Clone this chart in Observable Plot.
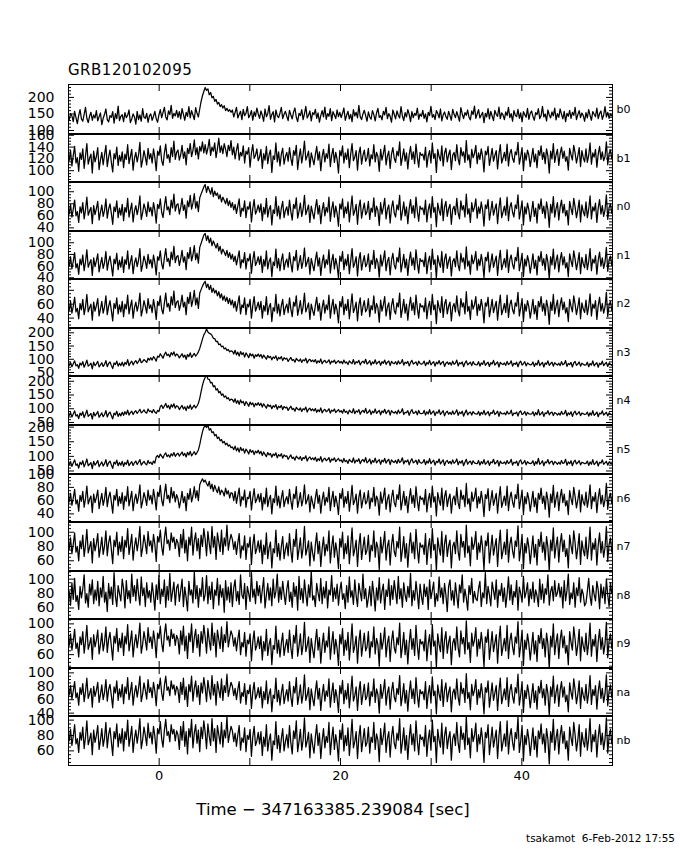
<!DOCTYPE html>
<html><head><meta charset="utf-8">
<script src="https://cdn.jsdelivr.net/npm/d3@7"></script>
<script src="https://cdn.jsdelivr.net/npm/@observablehq/plot@0.6"></script>
<style>
html,body{margin:0;padding:0;background:#fff;}
body{width:680px;height:850px;position:relative;overflow:hidden;font-family:"DejaVu Sans",sans-serif;color:#000;}
#title{position:absolute;left:68px;top:63px;font-size:15px;line-height:1;letter-spacing:0.5px;}
#xlabel{position:absolute;left:0;width:666px;top:802px;text-align:center;font-size:16.5px;line-height:1;}
#footer{position:absolute;right:5px;top:833px;font-size:10.5px;line-height:1;white-space:pre;}
.panel{position:absolute;left:0;}
</style></head><body>
<div id="title">GRB120102095</div>
<div id="panels"></div>
<div id="xlabel">Time − 347163385.239084 [sec]</div>
<div id="footer">tsakamot  6-Feb-2012 17:55</div>
<script>
// ---- data: counts per 0.15 s bin, first bin starting at t = -10 s ----
const binStart = -10, binWidth = 0.15;
const detectors = ["b0","b1","n0","n1","n2","n3","n4","n5","n6","n7","n8","n9","na","nb"];
const yLo = [88,80,34,37,25,35,39,38,27,45,44,42,35,41];
const yHi = [239,163,117,121,97,220,221,209,101,115,112,107,108,106];
const yTickLabels = [[100,150,200],[100,120,140,160],[40,60,80,100],[40,60,80,100],[40,60,80],[50,100,150,200],[50,100,150,200],[50,100,150,200],[40,60,80,100],[60,80,100],[60,80,100],[60,80,100],[40,60,80,100],[60,80,100]];
const yMinorStep = [10,5,5,5,5,10,10,10,5,5,5,5,5,5];
const xTickLabels = [0,20,40];
const xTicks = [0,10,20,30,40];

const b0 = [
132,151,144,127,158,139,121,146,163,135,128,149,170,137,124,143,155,131,147,138,
160,129,142,153,118,137,149,165,133,126,145,140,157,122,151,136,174,130,143,148,
127,154,139,146,162,124,135,150,141,119,158,133,147,128,166,140,137,152,125,144,
150,131,143,158,136,125,147,163,139,154,170,141,132,159,148,176,137,152,144,161,
140,157,135,166,149,131,155,143,172,138,160,147,133,169,152,141,165,188,205,218,
230,221,226,208,215,199,203,188,194,180,185,172,178,168,175,160,167,158,163,155,
162,141,155,170,138,149,158,133,164,145,152,172,139,147,160,131,156,143,168,150,
137,159,146,128,165,142,151,175,134,148,157,126,162,144,139,153,170,136,149,158,
143,130,161,147,135,156,168,140,127,152,145,163,133,150,173,138,146,159,129,154,
148,164,137,153,125,145,160,141,171,134,151,143,166,130,157,147,136,162,142,155,
139,152,168,131,146,158,135,149,127,163,144,155,138,176,142,133,150,161,145,128,
156,141,134,160,148,129,153,167,140,145,132,158,147,170,136,151,143,125,162,149,
135,159,146,138,172,144,130,154,141,163,149,127,157,139,152,146,168,134,150,143,
161,137,150,126,155,145,173,140,148,133,160,152,138,165,129,147,156,142,134,158,
145,131,164,149,139,157,143,128,169,150,136,154,146,162,140,132,159,148,174,137,
150,163,138,147,155,124,152,141,166,135,158,144,130,161,149,143,171,136,153,147,
133,156,145,170,139,151,128,160,146,142,164,137,153,126,157,148,140,167,134,152,
159,142,131,154,148,166,136,145,173,141,150,129,162,147,138,156,144,168,132,151,
140,165,149,135,158,127,152,143,161,137,155,146,170,133,148,160,139,153,145,128,
154,138,163,146,131,157,149,142,168,136,151,159,134,147,172,141,155,137,150,144];
const b1 = [
117,134,108,126,141,113,122,99,130,119,137,104,125,146,111,121,128,96,133,115,
124,139,102,118,131,110,127,143,107,123,135,114,98,129,120,140,109,126,116,132,
105,128,119,144,112,124,136,101,121,131,115,127,148,106,118,134,123,110,138,120,
129,113,137,122,100,133,126,142,117,109,130,145,121,127,114,139,124,150,119,131,
135,118,127,143,121,132,110,138,129,146,124,134,152,127,139,120,141,133,149,130,
144,128,138,153,126,140,133,147,122,137,155,131,142,129,146,136,124,143,134,151,
127,140,120,135,146,118,131,125,142,113,133,128,139,106,130,144,121,126,137,117,
123,136,104,129,118,141,112,127,135,97,125,119,147,115,132,108,128,138,111,124,
131,116,139,121,109,134,126,143,102,122,137,113,128,150,118,125,133,106,130,120,
110,127,141,118,132,100,124,136,115,129,121,145,107,126,138,114,131,119,96,134,
125,142,113,130,119,137,105,128,146,117,123,134,101,129,140,111,126,135,116,122,
138,108,127,120,144,115,131,124,99,136,118,129,143,110,125,133,104,128,139,121,
114,133,125,149,109,122,137,116,130,103,127,141,119,132,112,145,123,106,131,126,
128,118,140,106,125,134,113,147,121,129,97,136,124,117,142,108,130,138,115,127,
135,102,126,131,117,144,120,110,139,125,132,114,151,118,127,105,136,122,129,143,
112,130,119,137,124,98,133,127,141,109,123,138,116,126,134,103,128,144,113,121,
131,117,145,108,129,136,121,114,132,127,148,111,124,139,100,130,118,135,126,107,
122,138,115,128,105,134,126,142,119,131,112,137,125,96,133,120,146,114,127,136,
109,129,140,121,133,116,124,101,138,127,118,143,130,113,125,139,107,134,122,115,
137,114,126,147,111,130,123,136,106,128,141,119,132,117,124,149,110,129,135,120];
const n0 = [
63,79,58,71,86,60,67,49,75,65,82,55,70,91,61,68,74,47,77,62,
72,84,53,66,78,59,69,88,56,71,80,64,46,75,67,85,57,73,61,79,
52,74,66,89,58,70,81,50,68,77,62,73,93,54,65,80,71,59,83,67,
74,60,82,69,48,79,72,88,66,57,76,92,70,75,62,86,73,96,68,78,
80,63,74,89,69,78,56,85,75,94,71,81,97,73,84,67,90,96,102,108,
112,99,109,103,96,107,92,101,94,98,88,95,83,91,86,80,89,77,85,74,
82,70,79,64,76,88,59,73,68,85,57,75,71,83,50,72,87,63,69,78,
66,80,52,74,63,89,58,71,77,45,70,64,92,60,76,55,73,84,57,69,
75,61,86,67,53,79,72,90,56,68,81,59,71,94,62,70,78,49,76,65,
55,73,87,63,77,47,69,82,60,74,66,91,51,71,83,58,76,64,43,80,
71,88,57,75,64,83,50,72,93,61,68,79,46,74,86,56,70,81,62,67,
84,54,73,66,90,59,76,69,44,82,63,74,89,55,71,78,48,73,85,65,
58,78,70,94,53,67,83,60,75,47,72,87,64,77,57,91,68,51,76,71,
73,62,86,50,70,80,57,92,66,74,42,81,69,61,88,52,75,84,59,72,
79,46,71,76,62,89,65,55,85,70,77,58,96,63,72,49,82,67,74,88,
56,75,64,83,69,43,78,72,87,53,68,84,61,71,80,47,73,90,57,66,
76,61,91,52,74,82,66,58,78,72,95,55,69,85,45,75,63,81,70,51,
67,84,59,73,48,80,71,88,64,76,56,83,70,41,79,65,92,58,72,82,
53,74,86,65,79,60,69,45,84,72,62,89,75,57,70,86,50,78,67,60,
83,57,71,93,55,75,68,81,49,73,87,63,77,59,70,95,54,74,80,64];
const n1 = [
60,76,55,68,83,57,64,46,72,62,79,52,67,88,58,65,71,44,74,59,
69,81,50,63,75,56,66,85,53,68,77,61,43,72,64,82,54,70,58,76,
49,71,63,86,55,67,78,47,65,74,59,70,90,51,62,77,68,56,80,64,
71,57,79,66,45,76,70,86,64,55,74,90,68,73,60,84,71,94,66,76,
78,61,72,87,67,76,54,83,73,92,69,79,95,71,82,65,92,99,106,113,
116,104,112,100,108,95,103,97,91,99,86,94,81,89,84,78,87,75,83,72,
80,68,77,62,74,86,57,71,66,83,55,73,69,81,48,70,85,61,67,76,
63,77,49,71,60,86,55,68,74,42,67,61,89,57,73,52,70,81,54,66,
72,58,83,64,50,76,69,87,53,65,78,56,68,91,59,67,75,46,73,62,
52,70,84,60,74,44,66,79,57,71,63,88,48,68,80,55,73,61,40,77,
68,85,54,72,61,80,47,69,90,58,65,76,43,71,83,53,67,78,59,64,
81,51,70,63,87,56,73,66,41,79,60,71,86,52,68,75,45,70,82,62,
55,75,67,91,50,64,80,57,72,44,69,84,61,74,54,88,65,48,73,68,
70,59,83,47,67,77,54,89,63,71,39,78,66,58,85,49,72,81,56,69,
76,43,68,73,59,86,62,52,82,67,74,55,93,60,69,46,79,64,71,85,
53,72,61,80,66,40,75,69,84,50,65,81,58,68,77,44,70,87,54,63,
73,58,88,49,71,79,63,55,75,69,92,52,66,82,42,72,60,78,67,48,
64,81,56,70,45,77,68,85,61,73,53,80,67,38,76,62,89,55,69,79,
50,71,83,62,76,57,66,42,81,69,59,86,72,54,67,83,47,75,64,57,
80,54,68,90,52,72,65,78,46,70,84,60,74,56,67,92,51,71,77,61];
const n2 = [
51,64,47,57,70,49,54,39,61,52,67,45,56,74,49,55,60,37,63,50,
58,68,43,53,64,47,56,72,45,57,65,51,36,61,54,69,46,59,49,64,
42,60,53,73,46,57,66,40,55,63,50,59,76,43,52,65,57,47,68,54,
59,48,67,55,38,64,58,72,53,46,62,76,56,61,50,71,59,79,55,63,
65,51,60,73,56,63,45,70,61,77,57,66,80,59,69,54,76,81,86,90,
93,84,89,81,87,77,83,76,80,72,78,69,75,66,72,64,70,61,68,59,
66,55,64,50,61,72,46,59,55,69,45,60,56,67,40,58,71,50,56,63,
52,64,40,58,50,71,45,56,61,35,55,50,74,47,60,43,58,67,45,55,
60,48,69,53,42,63,57,72,44,54,65,46,56,76,49,55,62,38,60,51,
44,58,70,50,61,37,55,66,47,59,52,73,40,56,67,46,60,51,33,64,
56,71,45,60,51,67,39,57,75,48,54,63,36,59,69,44,56,65,49,53,
68,42,58,52,72,47,61,55,34,66,50,59,71,43,56,62,38,58,68,51,
46,62,56,76,41,53,67,47,60,37,57,70,51,62,45,73,54,40,61,56,
58,49,69,39,56,64,45,74,52,59,32,65,55,48,71,41,60,67,46,57,
63,36,56,61,49,72,51,43,68,56,62,46,78,50,57,38,66,53,59,71,
44,60,51,67,55,33,62,57,70,42,54,67,48,56,64,37,58,73,45,52,
61,48,73,41,59,66,52,46,62,57,77,43,55,68,35,60,50,65,56,40,
53,67,46,58,38,64,56,71,50,61,44,66,55,31,63,51,74,46,57,66,
42,59,69,52,63,47,55,35,67,57,49,72,60,45,56,69,39,62,53,48,
66,45,57,75,43,60,54,65,38,58,70,50,61,47,56,77,42,59,64,51];
const n3 = [
77,88,72,83,94,75,80,66,86,78,91,70,82,97,74,79,85,64,89,76,
83,92,71,79,87,73,81,95,72,84,90,77,65,86,80,93,74,85,76,89,
74,88,81,99,76,86,93,79,89,95,84,92,103,87,91,99,94,88,104,97,
106,97,110,103,93,112,108,121,113,104,118,127,114,119,109,125,116,128,112,120,
115,105,113,121,108,116,100,118,110,124,107,115,122,112,119,128,141,158,176,192,
201,214,203,198,196,190,179,178,167,168,155,158,147,150,139,143,133,137,128,132,
130,120,134,117,127,112,129,118,125,108,124,116,106,122,113,119,104,117,111,120,
110,118,104,116,108,100,114,106,111,98,109,104,113,96,107,102,110,95,106,101,
104,92,100,107,95,99,89,103,97,93,101,88,98,94,104,86,96,100,91,97,
90,99,85,94,88,101,83,92,96,87,91,98,82,93,89,97,84,90,95,86,
92,83,97,86,90,80,94,88,84,99,81,91,87,96,79,89,93,85,100,82,
87,95,78,90,84,98,82,88,93,77,91,85,97,81,89,94,76,92,86,83,
91,80,94,83,87,99,78,89,85,92,75,88,96,82,86,90,77,93,84,81,
84,93,76,88,82,96,79,86,91,74,89,83,95,80,87,92,73,85,90,81,
88,78,93,81,85,97,75,87,83,90,72,86,94,79,84,89,76,91,82,80,
79,91,74,86,81,95,77,84,89,73,87,82,96,78,85,90,71,88,83,80,
86,77,92,80,84,94,74,85,81,89,72,87,93,78,83,91,75,86,82,79,
80,90,73,85,79,96,76,83,88,71,86,81,94,77,84,89,74,87,82,78,
85,76,91,79,83,95,73,84,80,88,71,86,92,77,82,90,74,85,81,78,
79,89,72,84,78,94,75,82,87,70,85,80,93,76,83,88,73,86,81,77];
const n4 = [
75,86,70,81,92,73,78,64,84,76,89,68,80,95,72,77,83,62,87,74,
81,90,69,77,85,71,79,93,70,82,88,75,63,84,78,91,72,83,74,87,
76,89,80,95,77,86,91,79,88,93,83,90,98,85,89,96,87,84,99,90,
92,85,97,88,83,94,90,108,113,101,110,119,104,112,99,115,106,118,102,111,
108,97,105,112,99,107,93,110,101,114,98,106,113,103,110,120,138,162,185,203,
214,225,208,207,194,196,180,184,168,173,158,163,149,154,142,147,136,140,130,135,
133,124,136,120,130,116,132,121,127,112,126,119,109,124,115,121,107,119,113,122,
112,120,106,118,110,102,116,108,113,100,111,106,115,98,109,104,112,97,108,103,
106,94,102,109,97,101,91,105,99,95,103,90,100,96,106,88,98,102,93,99,
92,101,87,96,90,103,85,94,98,89,93,100,84,95,91,99,86,92,97,88,
93,84,98,87,91,81,95,89,85,100,82,92,88,97,80,90,94,86,101,83,
88,96,79,91,85,99,83,89,94,78,92,86,98,82,90,95,77,93,87,84,
90,81,95,84,88,100,79,87,86,93,76,89,97,83,85,91,78,94,83,82,
83,94,77,89,81,97,80,87,92,75,88,84,96,79,86,93,74,86,91,80,
87,79,92,80,86,96,76,88,82,91,73,85,95,78,85,88,77,90,83,81,
80,90,75,87,80,94,78,83,90,74,86,83,95,79,84,91,72,89,82,81,
85,78,91,81,83,95,75,84,82,88,73,88,92,79,82,90,76,87,81,80,
81,89,74,86,78,97,77,82,89,72,85,82,93,78,85,88,75,86,83,77,
84,77,90,80,82,94,74,85,79,89,72,85,91,78,83,89,75,84,82,79,
80,88,73,85,77,93,76,81,88,71,84,81,92,77,82,87,74,85,80,78];
const n5 = [
71,82,66,77,88,69,74,60,80,72,85,64,76,91,68,73,79,58,83,70,
77,86,65,73,81,67,75,89,66,78,84,71,59,80,74,87,68,79,70,83,
66,79,73,87,68,76,82,69,78,84,72,80,89,70,77,83,75,71,86,76,
80,72,84,77,98,103,96,108,101,94,106,112,99,105,97,109,102,113,100,107,
111,101,108,115,103,110,98,114,105,117,102,109,116,106,113,122,140,163,184,199,
204,199,207,190,195,181,184,170,175,161,166,153,158,146,151,140,145,135,139,130,
132,123,135,119,129,115,131,120,126,111,125,118,108,123,114,120,106,118,112,121,
109,117,103,115,107,99,113,105,110,97,108,103,112,95,106,101,109,94,105,100,
102,90,98,105,93,97,87,101,95,91,99,86,96,92,102,84,94,98,89,95,
88,97,83,92,86,99,81,90,94,85,89,96,80,91,87,95,82,88,93,84,
88,79,93,82,86,76,90,84,80,95,77,87,83,92,75,85,89,81,96,78,
83,91,74,86,80,94,78,84,89,73,87,81,93,77,85,90,72,88,82,79,
86,76,90,79,83,95,74,85,81,88,71,84,92,78,81,87,73,89,79,77,
79,89,72,84,77,92,75,82,87,70,83,79,91,74,81,88,69,82,86,76,
83,74,88,76,81,91,71,83,77,86,68,80,90,73,80,84,72,85,78,76,
75,86,70,82,75,89,73,78,85,69,81,78,90,74,79,86,67,84,77,76,
81,73,86,76,79,90,70,80,77,84,68,83,88,74,78,86,71,82,77,75,
77,85,69,82,74,93,73,78,85,68,81,78,89,74,81,84,71,82,79,73,
80,73,86,76,78,90,70,81,75,85,68,81,87,74,79,85,71,80,78,75,
76,84,69,81,73,89,72,77,84,67,80,77,88,73,78,83,70,81,76,74];
const n6 = [
58,71,53,64,77,55,61,44,68,59,74,50,63,82,55,62,67,42,70,57,
65,76,48,60,71,53,63,80,51,65,73,58,41,68,61,77,52,66,56,72,
47,67,59,81,52,63,74,45,61,70,56,66,84,49,59,72,64,53,76,61,
68,55,77,64,46,73,66,83,61,52,70,85,63,68,57,80,64,74,58,69,
63,49,60,74,57,66,45,71,62,78,58,67,81,64,75,60,84,89,93,88,
91,86,82,89,78,85,74,83,77,72,81,69,76,73,67,79,70,75,64,72,
71,60,74,56,68,79,52,66,61,76,50,65,63,74,46,64,78,57,62,70,
58,71,46,65,55,79,51,62,68,40,63,57,82,53,67,49,64,75,51,61,
66,55,77,60,47,70,63,81,50,60,72,52,62,84,55,61,69,43,67,57,
48,64,77,56,68,41,61,73,53,65,58,80,45,62,74,51,67,56,39,71,
63,78,50,66,56,74,44,62,83,54,60,70,41,65,76,49,61,72,55,59,
75,48,64,58,80,52,67,61,38,73,56,65,79,47,62,69,43,64,76,57,
51,69,62,84,46,59,74,53,66,42,63,78,56,68,50,81,60,45,67,62,
64,54,77,43,61,71,50,82,58,66,37,72,61,53,79,46,66,75,51,63,
70,41,62,67,54,80,57,48,76,62,68,51,86,55,63,44,73,59,65,79,
49,66,56,74,60,36,69,63,78,45,60,75,53,62,71,41,64,81,50,58,
67,53,82,45,64,73,58,50,69,63,85,48,61,76,39,66,55,72,62,44,
59,74,51,64,42,71,62,79,56,67,47,73,61,35,70,57,83,50,63,73,
45,65,77,57,70,52,60,39,75,63,54,80,66,49,61,76,43,69,58,53,
73,50,63,84,48,66,59,72,42,64,78,55,68,51,61,86,47,65,71,56];
const n7 = [
76,92,70,83,99,72,80,60,88,77,96,66,82,104,71,79,87,57,91,74,
84,98,65,78,93,69,81,102,67,85,95,76,56,89,80,100,68,86,73,94,
63,89,79,105,69,82,97,61,80,92,74,87,108,66,78,96,84,70,101,81,
88,72,97,83,59,94,86,103,80,68,91,107,84,89,75,99,86,93,77,90,
85,66,97,78,104,71,89,60,93,82,107,68,88,99,74,91,63,96,80,105,
90,67,101,84,70,108,79,94,62,99,86,73,103,69,92,81,110,75,88,97,
90,76,87,69,85,98,64,81,75,95,62,84,79,93,55,82,97,70,77,88,
72,89,56,82,69,99,63,78,86,50,77,71,103,66,84,61,80,94,63,76,
85,67,98,74,58,90,80,104,62,76,92,64,78,108,68,77,88,53,86,71,
60,82,99,70,87,52,77,93,67,83,74,102,57,79,95,65,85,72,49,91,
79,100,63,84,70,95,56,80,106,67,76,89,52,82,98,62,78,93,69,75,
96,59,82,74,102,65,86,78,48,93,71,83,101,61,80,89,54,82,97,73,
66,87,78,107,59,75,94,64,84,51,80,99,71,86,63,104,77,57,85,79,
82,69,98,55,79,91,64,105,75,83,46,92,78,68,101,58,84,96,66,81,
89,50,80,86,70,102,73,61,97,79,87,65,110,71,81,53,93,76,84,101,
62,85,72,95,78,47,88,81,99,57,77,96,68,80,91,52,83,103,63,74,
86,69,104,58,83,93,74,64,88,80,109,60,77,97,49,84,71,92,79,56,
76,95,65,83,54,90,80,100,72,86,61,94,79,45,89,74,106,64,81,93,
58,84,98,73,89,66,77,50,96,81,70,102,85,63,78,98,55,88,75,67,
93,63,80,107,61,85,76,91,54,82,99,71,87,65,79,108,59,83,92,72];
const n8 = [
83,64,95,72,101,69,77,58,90,74,86,106,67,80,61,93,78,99,66,85,
71,97,63,88,75,104,68,82,55,94,73,89,65,109,76,62,91,80,70,100,
87,60,98,73,84,67,107,76,91,70,100,79,64,103,77,88,62,95,74,84,
68,95,78,57,92,72,105,66,86,76,99,61,90,71,108,69,82,96,64,88,
93,69,84,100,62,89,74,56,97,78,85,67,110,73,91,61,87,76,102,70,
79,105,66,90,72,96,59,85,77,101,64,92,75,87,54,98,71,89,68,95,
62,88,99,70,83,65,106,78,73,94,58,90,80,69,109,75,86,66,97,77,
91,67,85,102,60,78,94,71,88,63,100,74,83,107,68,89,72,97,79,65,
86,98,69,82,61,95,76,90,57,104,72,87,67,99,79,63,92,75,111,71,
77,62,94,81,70,101,66,89,74,97,60,85,78,105,69,88,73,93,64,84,
96,72,80,59,91,68,103,75,84,65,99,77,62,94,82,70,107,73,87,61,
74,90,63,97,79,56,88,71,102,67,83,93,58,85,76,100,64,91,72,98,
82,66,104,73,87,61,95,78,69,90,75,108,63,84,71,97,80,59,93,76,
65,93,76,89,58,99,73,84,96,62,80,70,103,75,88,66,94,78,55,90,
99,71,84,64,95,77,60,92,81,106,68,86,74,57,91,79,101,67,83,73,
70,87,97,62,81,74,109,66,90,78,63,96,84,72,99,61,85,77,94,69,
88,61,79,103,71,92,65,83,75,98,57,89,80,68,104,74,82,95,63,86,
73,96,68,85,77,62,100,72,93,67,87,79,106,64,83,90,70,98,76,81,
94,75,89,60,98,70,84,107,65,81,73,95,61,88,77,102,68,86,79,63,
67,83,101,76,64,91,79,70,97,85,59,93,74,89,66,100,78,62,95,80];
const n9 = [
72,87,66,78,93,68,75,57,83,73,90,62,77,98,67,74,82,54,86,70,
79,92,61,73,88,65,76,96,63,80,89,71,53,84,75,94,64,81,69,88,
59,84,74,99,65,77,91,57,75,86,69,82,101,62,73,90,79,66,95,76,
83,68,91,78,56,88,81,97,75,64,86,100,79,84,71,93,81,87,72,85,
80,61,91,73,97,65,84,55,88,77,100,63,82,93,69,86,58,90,75,98,
83,62,94,78,66,101,72,88,57,92,80,68,96,64,86,76,103,70,81,91,
85,71,82,65,80,92,60,76,70,89,58,79,74,87,52,77,91,66,72,83,
68,84,53,77,65,93,59,73,81,47,72,67,97,62,79,57,75,88,59,71,
80,63,92,69,55,85,75,98,58,71,87,60,73,102,64,72,83,50,81,67,
56,77,93,66,82,49,72,88,63,78,70,96,54,74,90,61,80,68,46,86,
74,94,59,79,66,89,53,75,100,63,71,84,49,77,92,58,73,88,65,70,
90,56,77,70,96,61,81,73,45,88,67,78,95,57,75,84,51,77,91,69,
62,82,73,101,56,70,89,60,79,48,75,93,67,81,59,98,72,54,80,74,
77,65,92,52,74,86,60,99,71,78,44,87,73,64,95,55,79,90,62,76,
84,47,75,81,66,96,69,57,91,74,82,61,104,67,76,50,88,71,79,95,
58,80,68,89,73,44,83,76,93,54,72,90,64,75,86,49,78,97,59,70,
81,65,98,55,78,88,70,60,83,75,103,57,72,92,46,79,67,87,74,53,
71,89,61,78,51,85,75,94,68,81,57,88,74,42,84,70,100,60,76,87,
55,79,92,69,84,62,72,47,90,76,66,96,80,59,73,93,52,83,71,64,
88,60,75,101,58,80,71,86,51,77,93,67,82,61,74,102,56,78,87,68];
const na = [
67,81,61,73,87,63,70,52,78,68,84,57,72,92,62,69,77,49,80,65,
74,86,56,68,82,60,71,90,58,75,83,66,48,79,70,88,59,76,64,83,
54,79,69,93,60,72,86,52,70,81,64,77,95,57,68,85,74,61,90,71,
78,63,86,73,51,83,76,92,70,59,81,95,74,79,66,88,76,82,67,80,
75,56,86,68,92,60,79,50,83,72,95,58,77,88,64,81,53,85,70,93,
78,57,89,73,61,96,67,83,52,87,75,63,91,59,81,71,98,65,76,86,
80,66,77,60,75,87,55,71,65,84,53,74,69,82,47,72,86,61,67,78,
63,79,48,72,60,88,54,68,76,42,67,62,92,57,74,52,70,83,54,66,
75,58,87,64,50,80,70,93,53,66,82,55,68,97,59,67,78,45,76,62,
51,72,88,61,77,44,67,83,58,73,65,91,49,69,85,56,75,63,41,81,
69,89,54,74,61,84,48,70,95,58,66,79,44,72,87,53,68,83,60,65,
85,51,72,65,91,56,76,68,40,83,62,73,90,52,70,79,46,72,86,64,
57,77,68,96,51,65,84,55,74,43,70,88,62,76,54,93,67,49,75,69,
72,60,87,47,69,81,55,94,66,73,39,82,68,59,90,50,74,85,57,71,
79,42,70,76,61,91,64,52,86,69,77,56,99,62,71,45,83,66,74,90,
53,75,63,84,68,39,78,71,88,49,67,85,59,70,81,44,73,92,54,65,
76,60,93,50,73,83,65,55,78,70,98,52,67,87,41,74,62,82,69,48,
66,84,56,73,46,80,70,89,63,76,52,83,69,37,79,65,95,55,71,82,
50,74,87,64,79,57,67,42,85,71,61,91,75,54,68,88,47,78,66,59,
83,55,70,96,53,75,66,81,46,72,88,62,77,56,69,97,51,73,82,63];
const nb = [
73,88,67,79,94,69,76,58,84,74,91,63,78,99,68,75,83,55,87,71,
80,93,62,74,89,66,77,97,64,81,90,72,54,85,76,95,65,82,70,89,
60,85,75,100,66,78,92,58,76,87,70,83,102,63,74,91,80,67,96,77,
84,69,92,79,57,89,82,98,76,65,87,101,80,85,72,94,82,88,73,86,
81,62,92,74,98,66,85,56,89,78,101,64,83,94,70,87,59,91,76,99,
84,63,95,79,67,102,73,89,58,93,81,69,97,65,87,77,104,71,82,92,
86,72,83,66,81,93,61,77,71,90,59,80,75,88,53,78,92,67,73,84,
69,85,54,78,66,94,60,74,82,48,73,68,98,63,80,58,76,89,60,72,
81,64,93,70,56,86,76,99,59,72,88,61,74,103,65,73,84,51,82,68,
57,78,94,67,83,50,73,89,64,79,71,97,55,75,91,62,81,69,47,87,
75,95,60,80,67,90,54,76,101,64,72,85,50,78,93,59,74,89,66,71,
91,57,78,71,97,62,82,74,46,89,68,79,96,58,76,85,52,78,92,70,
63,83,74,102,57,71,90,61,80,49,76,94,68,82,60,99,73,55,81,75,
78,66,93,53,75,87,61,100,72,79,45,88,74,65,96,56,80,91,63,77,
85,48,76,82,67,97,70,58,92,75,83,62,105,68,77,51,89,72,80,96,
59,81,69,90,74,45,84,77,94,55,73,91,65,76,87,50,79,98,60,71,
82,66,99,56,79,89,71,61,84,76,104,58,73,93,47,80,68,88,75,54,
72,90,62,79,52,86,76,95,69,82,58,89,75,43,85,71,101,61,77,88,
56,80,93,70,85,63,73,48,91,77,67,97,81,60,74,94,53,84,72,65,
89,61,76,102,59,81,72,87,52,78,94,68,83,62,75,103,57,79,88,69];
const seriesList = [b0,b1,n0,n1,n2,n3,n4,n5,n6,n7,n8,n9,na,nb];

// ---- layout ----
const W = 680, ML = 68, MR = 68, TOP = 84, TOTAL = 680;
const innerW = W - ML - MR;
const container = document.getElementById("panels");
const nP = detectors.length;
const edge = k => TOP + Math.round(k * TOTAL / nP);

detectors.forEach((name, k) => {
  const last = k === nP - 1;
  const h = edge(k + 1) - edge(k) + 1;
  const mb = last ? 30 : 0;
  const rows = seriesList[k].map((v, i) => ({t: binStart + binWidth * i + binWidth / 2, v}));
  const lo = yLo[k], hi = yHi[k], st = yMinorStep[k];
  const major = yTickLabels[k];
  const minor = d3.range(Math.ceil(lo / st) * st, hi, st).filter(v => !major.includes(v));
  const marks = [
    Plot.line(rows, {x: "t", y: "v", stroke: "black", strokeWidth: 1.25, clip: true}),
    Plot.tickY(major, {y: d => d, stroke: "black", insetRight: innerW - 6}),
    Plot.tickY(major, {y: d => d, stroke: "black", insetLeft: innerW - 6}),
    Plot.tickY(minor, {y: d => d, stroke: "black", insetRight: innerW - 3}),
    Plot.tickY(minor, {y: d => d, stroke: "black", insetLeft: innerW - 3}),
    Plot.tickX(xTicks, {x: d => d, stroke: "black", insetBottom: h - 7}),
    Plot.tickX(xTicks, {x: d => d, stroke: "black", insetTop: h - 7}),
    Plot.axisY(major, {anchor: "left", tickSize: 0, tickPadding: 14, fontSize: 14, label: null, tickFormat: d => String(d)}),
    Plot.text([name], {text: d => d, frameAnchor: "right", dx: 4, textAnchor: "start", fontSize: 11, fill: "black"}),
    Plot.frame({stroke: "black", strokeWidth: 1})
  ];
  if (last) marks.push(Plot.axisX(xTickLabels, {anchor: "bottom", tickSize: 0, tickPadding: 5, fontSize: 13, label: null, tickFormat: d => String(d)}));
  const chart = Plot.plot({
    width: W, height: h + mb,
    marginLeft: ML, marginRight: MR, marginTop: 0, marginBottom: mb,
    style: {overflow: "visible", background: "transparent", fontFamily: "DejaVu Sans, sans-serif", color: "black"},
    x: last ? {domain: [-10, 50]} : {domain: [-10, 50], axis: null},
    y: {domain: [lo, hi]},
    marks
  });
  chart.classList.add("panel");
  chart.style.top = edge(k) + "px";
  chart.style.position = "absolute";
  chart.style.left = "0px";
  container.appendChild(chart);
});
</script>
</body></html>
